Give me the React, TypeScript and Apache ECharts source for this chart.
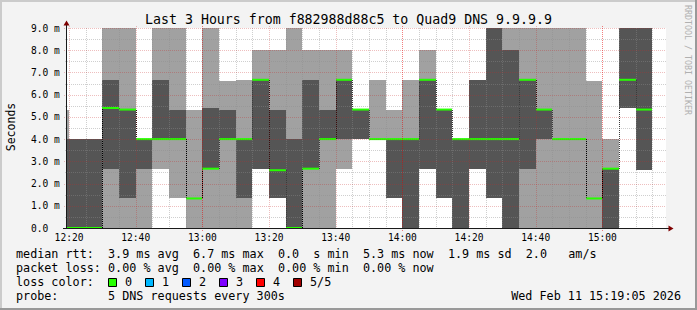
import React, { useEffect, useRef } from 'react';
import * as echarts from 'echarts';

// ---- data (ms) per 5-minute interval ----
const intervalStarts = [
  '12:15', '12:20', '12:25', '12:30', '12:35', '12:40', '12:45', '12:50', '12:55',
  '13:00', '13:05', '13:10', '13:15', '13:20', '13:25', '13:30', '13:35', '13:40', '13:45', '13:50', '13:55',
  '14:00', '14:05', '14:10', '14:15', '14:20', '14:25', '14:30', '14:35', '14:40', '14:45', '14:50', '14:55',
  '15:00', '15:05', '15:10',
];
const pingMin = [
  0, 0, 0, 0, 0, 0, 2.67, 1.33, 0,
  0, 0, 0, 2.67, 1.33, 0, 0, 0, 2.67, 4.0, 4.0, 1.33,
  0, 2.67, 1.33, 0, 2.67, 1.33, 0, 0, 0, 0, 0, 0,
  0, 5.4, 2.6,
];
const ping2 = [
  0, 0, 0, 2.67, 1.33, 2.67, 4.0, 4.0, 1.33,
  2.67, 4.0, 1.33, 2.67, 1.33, 0, 2.67, 4.0, 4.0, 4.0, 4.0, 1.33,
  0, 2.67, 1.33, 0, 2.67, 1.33, 0, 2.67, 4.0, 4.0, 4.0, 1.33,
  0, 5.4, 2.6,
];
const medianRtt = [
  0, 0, 0, 5.4, 5.33, 4.0, 4.0, 4.0, 1.33,
  2.67, 4.0, 4.0, 6.67, 2.6, 0, 2.67, 4.0, 6.67, 5.33, 4.0, 4.0,
  4.0, 6.67, 5.33, 4.0, 4.0, 4.0, 4.0, 6.67, 5.33, 4.0, 4.0, 1.33,
  2.67, 6.67, 5.33,
];
const ping4 = [
  4.0, 4.0, 4.0, 6.67, 5.33, 4.0, 6.67, 5.33, 1.33,
  5.4, 5.33, 4.0, 6.67, 5.33, 4.0, 6.67, 5.33, 6.67, 5.33, 4.0, 4.0,
  4.0, 6.67, 5.33, 4.0, 6.67, 9.33, 8.0, 6.67, 5.33, 4.0, 4.0, 1.33,
  2.67, 9.33, 9.33,
];
const pingMax = [
  5.33, 4.0, 4.0, 9.33, 9.33, 4.0, 9.33, 9.33, 5.33,
  9.33, 6.6, 6.67, 8.0, 8.0, 9.33, 8.0, 8.0, 8.0, 5.33, 6.67, 5.33,
  6.67, 8.0, 5.33, 4.0, 6.67, 9.33, 9.33, 9.33, 9.33, 9.33, 9.33, 6.6,
  4.0, 9.33, 9.33,
];
const xTickLabels = ['12:20', '12:40', '13:00', '13:20', '13:40', '14:00', '14:20', '14:40', '15:00'];
const lossLabels = ['0', '1', '2', '3', '4', '5/5'];
const lossColors = ['#26ff00', '#00b8ff', '#0059ff', '#7e00ff', '#ff0000', '#a10000'];

const titleText = 'Last 3 Hours from f882988d88c5 to Quad9 DNS 9.9.9.9';
const rttRow: [string, number][] = [
  ['median rtt:', 0], ['3.9 ms avg', 13], ['6.7 ms max', 25], ['0.0', 37], ['s min', 42],
  ['5.3 ms now', 49], ['1.9 ms sd', 61], ['2.0', 72], ['am/s', 78],
];
const lossRow: [string, number][] = [
  ['packet loss:', 0], ['0.00 % avg', 13], ['0.00 % max', 25], ['0.00 % min', 37], ['0.00 % now', 49],
];
const probeRow: [string, number][] = [['probe:', 0], ['5 DNS requests every 300s', 13]];
const dateText = 'Wed Feb 11 15:19:05 2026';

// ---- layout / style ----
const FONT = 'DejaVu Sans Mono';
const L = 66, T = 28, W = 600, H = 200;
const STEP = 5;
const WINDOW_START = '12:19:05';
const WINDOW_MIN = 180;
const Y_MAX = 9;
const LIGHT = '#a1a1a1';
const DARK = '#555555';
const GREEN = '#26ff00';
const GRID_C = 'rgba(140,140,140,0.42)';
const MGRID_C = 'rgba(200,40,40,0.3)';
const HOUR_C = 'rgba(230,0,0,0.5)';
const AXIS_C = '#1a1a1a';
const ARROW_C = '#7f0000';
const CW = 7.08; // legend char width
const LEG_X = 16;

function toMin(s: string) {
  const p = s.split(':').map(Number);
  return p[0] * 60 + p[1] + (p[2] || 0) / 60;
}
function fmtMin(v: number) {
  const m = Math.round(v);
  const h = Math.floor(m / 60);
  const mm = m % 60;
  return `${h}:${mm < 10 ? '0' : ''}${mm}`;
}

export default function App() {
  const ref = useRef<HTMLDivElement>(null);
  useEffect(() => {
    document.body.style.margin = '0';
    const chart = echarts.init(ref.current!, null, { renderer: 'svg', width: 697, height: 310 });
    const xMin = toMin(WINDOW_START);
    const xMax = xMin + WINDOW_MIN;

    const smokeData = intervalStarts.map((s, i) => [toMin(s), pingMin[i], ping2[i], medianRtt[i], ping4[i], pingMax[i]]);

    const vGrid: number[][] = [];
    for (let t = Math.ceil(xMin / STEP) * STEP; t < xMax; t += STEP) vGrid.push([t, 0]);
    const hGrid: number[][] = [];
    for (let k = 1; k <= Y_MAX * 2; k++) hGrid.push([xMin, k / 2]);

    const legendTexts: any[] = [];
    const addRow = (row: [string, number][], y: number) => {
      row.forEach(([txt, col]) => {
        legendTexts.push({
          type: 'text', x: LEG_X + col * CW, y, z: 100,
          style: { text: txt, fontFamily: FONT, fontSize: 11.76, fill: '#000', align: 'left', verticalAlign: 'middle' },
        });
      });
    };
    addRow(rttRow, 254.2);
    addRow(lossRow, 268.2);
    addRow([['loss color:', 0]], 282.2);
    addRow(probeRow, 296.2);
    lossLabels.forEach((lab, i) => {
      const bx = 108 + 37 * i;
      legendTexts.push({
        type: 'rect', z: 100, shape: { x: bx + 0.5, y: 278.5, width: 8, height: 8 },
        style: { fill: lossColors[i], stroke: '#000', lineWidth: 1 },
      });
      legendTexts.push({
        type: 'text', x: bx + 17, y: 282.2, z: 100,
        style: { text: lab, fontFamily: FONT, fontSize: 11.76, fill: '#000', align: 'left', verticalAlign: 'middle' },
      });
    });
    legendTexts.push({
      type: 'text', x: 681, y: 296.2, z: 100,
      style: { text: dateText, fontFamily: FONT, fontSize: 11.76, fill: '#000', align: 'right', verticalAlign: 'middle' },
    });

    const option: any = {
      animation: false,
      backgroundColor: '#f3f3f3',
      grid: {
        left: L, top: T, width: W, height: H, show: true, backgroundColor: '#ffffff',
        borderWidth: 0, containLabel: false, outerBoundsMode: 'none',
      },
      xAxis: {
        type: 'value', min: xMin, max: xMax,
        axisLine: { show: false }, axisTick: { show: false }, splitLine: { show: false },
        axisLabel: {
          customValues: xTickLabels.map(toMin),
          formatter: (v: number) => fmtMin(v),
          margin: 4, fontSize: 9.6, fontFamily: FONT, color: '#000',
        },
      },
      yAxis: {
        type: 'value', min: 0, max: Y_MAX, interval: 1,
        axisLine: { show: false }, axisTick: { show: false }, splitLine: { show: false },
        axisLabel: {
          formatter: (v: number) => (v === 0 ? '0.0' : `${v.toFixed(1)} m`),
          align: 'left', margin: 35, fontSize: 9.6, fontFamily: FONT, color: '#000', padding: [2, 0, 0, 0],
        },
      },
      series: [
        {
          type: 'custom', name: 'smoke', z: 2, silent: true,
          data: smokeData,
          renderItem: (params: any, api: any) => {
            const i = params.dataIndex;
            const t0 = api.value(0) as number;
            const s = Math.max(t0, xMin);
            const e = Math.min(t0 + STEP, xMax);
            const cl = (v: number) => Math.min(v, Y_MAX);
            const v = [1, 2, 3, 4, 5].map((k) => cl(api.value(k) as number));
            const xs = Math.round(api.coord([s, 0])[0]);
            const xe = Math.round(api.coord([e, 0])[0]);
            const py = (val: number) => Math.round(api.coord([s, val])[1]);
            const children: any[] = [];
            const band = (lo: number, hi: number, fill: string) => {
              const y1 = py(hi), y2 = py(lo);
              if (y2 > y1) children.push({ type: 'rect', shape: { x: xs, y: y1, width: xe - xs, height: y2 - y1 }, style: { fill } });
            };
            band(v[0], v[4], LIGHT);
            band(v[1], v[3], DARK);
            if (i > 0) {
              const pm = cl(medianRtt[i - 1]);
              if (pm !== v[2]) {
                children.push({
                  type: 'line',
                  shape: { x1: xs + 0.5, y1: py(pm), x2: xs + 0.5, y2: py(v[2]) },
                  style: { stroke: '#000', lineWidth: 1, lineDash: [1, 1] },
                });
              }
            }
            const my = api.coord([s, v[2]])[1];
            children.push({ type: 'line', shape: { x1: xs, y1: my, x2: xe, y2: my }, style: { stroke: GREEN, lineWidth: 2 } });
            return { type: 'group', children };
          },
        },
        {
          type: 'custom', name: 'vgrid', z: 3, silent: true,
          data: vGrid,
          renderItem: (params: any, api: any) => {
            const t = api.value(0) as number;
            const p0 = api.coord([t, 0]);
            const p1 = api.coord([t, Y_MAX]);
            const x = Math.round(p0[0]) + 0.5;
            const r = Math.round(t);
            const hour = r % 60 === 0;
            const major = r % 20 === 0;
            const ext = major ? 2 : 0;
            return {
              type: 'line',
              shape: { x1: x, y1: Math.round(p1[1]) - ext, x2: x, y2: Math.round(p0[1]) + ext + (hour ? 1 : 0) },
              style: { stroke: hour ? HOUR_C : major ? MGRID_C : GRID_C, lineWidth: 1, lineDash: [1, 1] },
            };
          },
        },
        {
          type: 'custom', name: 'hgrid', z: 3, silent: true,
          data: hGrid,
          renderItem: (params: any, api: any) => {
            const v = api.value(1) as number;
            const a = api.coord([xMin, v]);
            const b = api.coord([xMax, v]);
            const y = Math.round(a[1]) + 0.5;
            const major = Math.abs(v - Math.round(v)) < 1e-6;
            return {
              type: 'line',
              shape: { x1: Math.round(a[0]) - (major ? 2 : 1), y1: y, x2: Math.round(b[0]), y2: y },
              style: { stroke: major ? MGRID_C : GRID_C, lineWidth: 1, lineDash: [1, 1] },
            };
          },
        },
      ],
      graphic: [
        // frame
        { type: 'rect', z: 100, shape: { x: 0, y: 0, width: 697, height: 2 }, style: { fill: '#cbcbcb' } },
        { type: 'rect', z: 100, shape: { x: 0, y: 0, width: 2, height: 310 }, style: { fill: '#cbcbcb' } },
        { type: 'rect', z: 100, shape: { x: 0, y: 308, width: 697, height: 2 }, style: { fill: '#999999' } },
        { type: 'rect', z: 100, shape: { x: 695, y: 0, width: 2, height: 310 }, style: { fill: '#999999' } },
        // axes
        { type: 'line', z: 100, shape: { x1: L - 3, y1: T + H + 0.5, x2: L + W + 3, y2: T + H + 0.5 }, style: { stroke: AXIS_C, lineWidth: 1 } },
        { type: 'line', z: 100, shape: { x1: L + 0.5, y1: T + H + 1, x2: L + 0.5, y2: T - 3 }, style: { stroke: AXIS_C, lineWidth: 1 } },
        { type: 'polygon', z: 101, shape: { points: [[L + W + 7.5, T + H + 0.5], [L + W + 2.5, T + H - 2.5], [L + W + 2.5, T + H + 3.5]] }, style: { fill: ARROW_C } },
        { type: 'polygon', z: 101, shape: { points: [[L + 0.5, T - 7.5], [L - 2.5, T - 2.5], [L + 3.5, T - 2.5]] }, style: { fill: ARROW_C } },
        // titles
        {
          type: 'text', x: 348.5, y: 19.4, z: 100,
          style: { text: titleText, fontFamily: FONT, fontSize: 13.26, fill: '#000', align: 'center', verticalAlign: 'middle' },
        },
        {
          type: 'text', x: 11, y: 127, rotation: Math.PI / 2, z: 100,
          style: { text: 'Seconds', fontFamily: FONT, fontSize: 11.5, fill: '#000', align: 'center', verticalAlign: 'middle' },
        },
        {
          type: 'text', x: 688, y: 60, rotation: -Math.PI / 2, z: 100,
          style: { text: 'RRDTOOL / TOBI OETIKER', fontFamily: FONT, fontSize: 8.3, fill: '#b0b0b0', align: 'center', verticalAlign: 'middle' },
        },
        ...legendTexts,
      ],
    };
    chart.setOption(option);
    return () => chart.dispose();
  }, []);
  return <div ref={ref} style={{ width: 697, height: 310, position: 'absolute', left: 0, top: 0 }} />;
}
